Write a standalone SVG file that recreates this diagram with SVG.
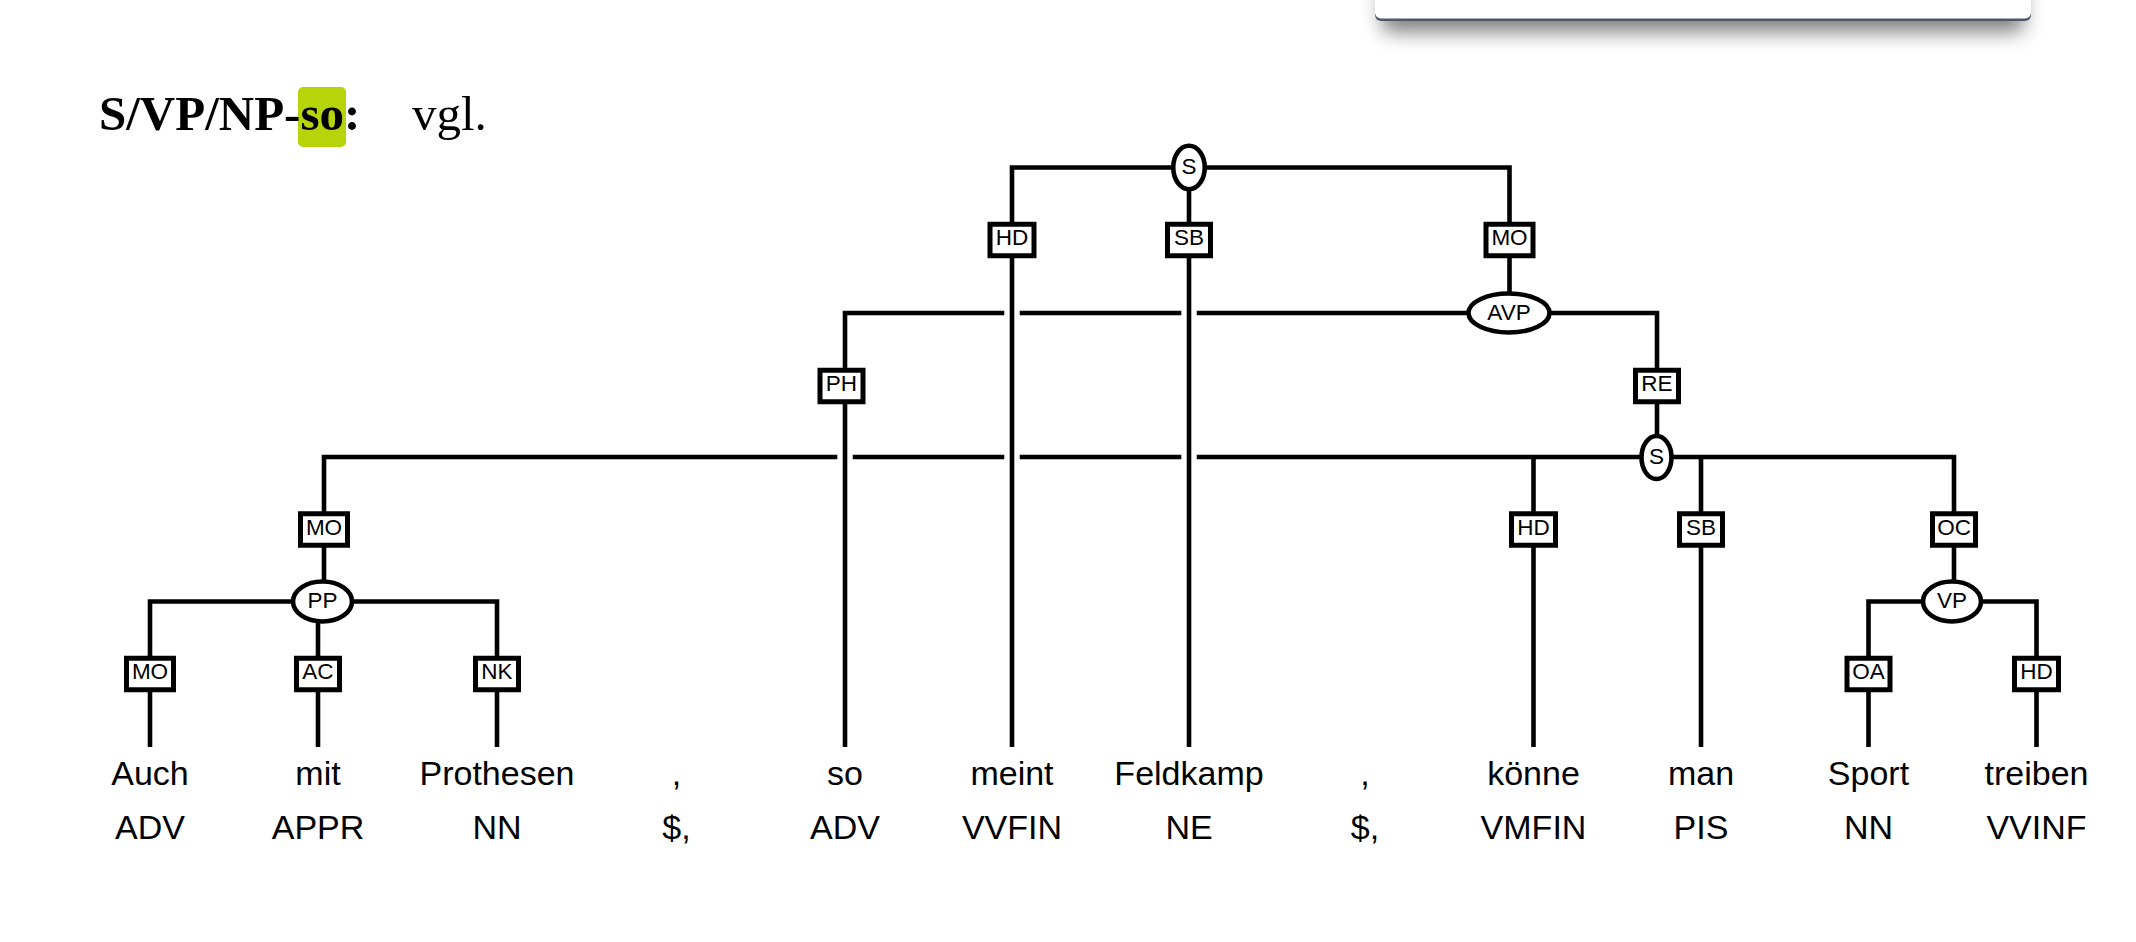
<svg xmlns="http://www.w3.org/2000/svg" width="2136" height="942" viewBox="0 0 2136 942">
<defs>
<filter id="shadow" x="-10%" y="-100%" width="120%" height="400%">
<feGaussianBlur stdDeviation="10"/>
</filter>
</defs>
<style>
.ln{fill:none;stroke:#000;stroke-width:4.6;stroke-linecap:butt;stroke-linejoin:miter}
.box{fill:#fff;stroke:#000;stroke-width:5}
.ell{fill:#fff;stroke:#000;stroke-width:4.6}
.lbl{font-family:"Liberation Sans",Arial,sans-serif;font-size:22.5px;text-anchor:middle;fill:#000}
.word{font-family:"Liberation Sans",Arial,sans-serif;font-size:34px;text-anchor:middle;fill:#000}
.title{font-family:"Liberation Serif","Times New Roman",serif;font-size:49px;fill:#000}
</style>
<rect width="2136" height="942" fill="#fff"/>
<g id="popup">
<rect x="1382" y="-20" width="642" height="52" rx="8" fill="#000" opacity="0.5" filter="url(#shadow)"/>
<rect x="1375" y="-20" width="656" height="41" rx="6" fill="#4d576a"/>
<rect x="1375" y="-22" width="656" height="40.5" rx="6" fill="#fff"/>
</g>
<g id="title">
<rect x="298" y="87" width="48" height="60" rx="5" fill="#b7d40b"/>
<text class="title" x="99" y="130" font-weight="bold">S/VP/NP-so:</text>
<text class="title" x="412" y="130">vgl.</text>
</g>
<g id="connectors">
<path class="ln" d="M1012 747 V167.5 H1509.5 V313"/>
<path class="ln" d="M1189 167.5 V747"/>
<path class="ln" d="M845 747 V313 H1004.3"/>
<path class="ln" d="M1019.7 313 H1181.3"/>
<path class="ln" d="M1196.7 313 H1657 V457"/>
<path class="ln" d="M324 601.5 V457 H837.3"/>
<path class="ln" d="M852.7 457 H1004.3"/>
<path class="ln" d="M1019.7 457 H1181.3"/>
<path class="ln" d="M1196.7 457 H1954 V601.5"/>
<path class="ln" d="M1533.5 457 V747"/>
<path class="ln" d="M1701 457 V747"/>
<path class="ln" d="M150 747 V601.5 H497 V747"/>
<path class="ln" d="M318 601.5 V747"/>
<path class="ln" d="M1868.5 747 V601.5 H2036.5 V747"/>
</g>
<g id="edge-labels">
<g id="e-HD1"><rect class="box" x="990" y="224.25" width="44" height="31.5"/><text class="lbl" x="1012" y="245">HD</text></g>
<g id="e-SB1"><rect class="box" x="1167.5" y="224.25" width="43" height="31.5"/><text class="lbl" x="1189" y="245">SB</text></g>
<g id="e-MO1"><rect class="box" x="1486" y="224.25" width="47" height="31.5"/><text class="lbl" x="1509.5" y="245">MO</text></g>
<g id="e-PH"><rect class="box" x="820" y="370.25" width="43" height="31.5"/><text class="lbl" x="841.5" y="391">PH</text></g>
<g id="e-RE"><rect class="box" x="1635.5" y="370.25" width="43" height="31.5"/><text class="lbl" x="1657" y="391">RE</text></g>
<g id="e-MO2"><rect class="box" x="300.5" y="513.75" width="47" height="31.5"/><text class="lbl" x="324" y="534.5">MO</text></g>
<g id="e-HD2"><rect class="box" x="1511.5" y="513.75" width="44" height="31.5"/><text class="lbl" x="1533.5" y="534.5">HD</text></g>
<g id="e-SB2"><rect class="box" x="1679.5" y="513.75" width="43" height="31.5"/><text class="lbl" x="1701" y="534.5">SB</text></g>
<g id="e-OC"><rect class="box" x="1932.5" y="513.75" width="43" height="31.5"/><text class="lbl" x="1954" y="534.5">OC</text></g>
<g id="e-MO3"><rect class="box" x="126.5" y="658.25" width="47" height="31.5"/><text class="lbl" x="150" y="679">MO</text></g>
<g id="e-AC"><rect class="box" x="296.5" y="658.25" width="43" height="31.5"/><text class="lbl" x="318" y="679">AC</text></g>
<g id="e-NK"><rect class="box" x="475.5" y="658.25" width="43" height="31.5"/><text class="lbl" x="497" y="679">NK</text></g>
<g id="e-OA"><rect class="box" x="1847" y="658.25" width="43" height="31.5"/><text class="lbl" x="1868.5" y="679">OA</text></g>
<g id="e-HD3"><rect class="box" x="2014.5" y="658.25" width="44" height="31.5"/><text class="lbl" x="2036.5" y="679">HD</text></g>
</g>
<g id="node-S1"><ellipse class="ell" cx="1189" cy="167.5" rx="15.75" ry="21.75"/><text class="lbl" x="1189" y="174">S</text></g>
<g id="node-AVP"><ellipse class="ell" cx="1509" cy="313" rx="40.5" ry="19.5"/><text class="lbl" x="1509" y="319.5">AVP</text></g>
<g id="node-S2"><ellipse class="ell" cx="1656.5" cy="457.5" rx="15" ry="21.5"/><text class="lbl" x="1656.5" y="464">S</text></g>
<g id="node-PP"><ellipse class="ell" cx="322.5" cy="601.5" rx="29.5" ry="20"/><text class="lbl" x="322.5" y="608">PP</text></g>
<g id="node-VP"><ellipse class="ell" cx="1952" cy="601.5" rx="29" ry="20"/><text class="lbl" x="1952" y="608">VP</text></g>
<g id="words">
<g id="w1"><text class="word" x="150" y="785">Auch</text><text class="word" x="150" y="839">ADV</text></g>
<g id="w2"><text class="word" x="318" y="785">mit</text><text class="word" x="318" y="839">APPR</text></g>
<g id="w3"><text class="word" x="497" y="785">Prothesen</text><text class="word" x="497" y="839">NN</text></g>
<g id="w4"><text class="word" x="676.5" y="785">,</text><text class="word" x="676.5" y="839">$,</text></g>
<g id="w5"><text class="word" x="845" y="785">so</text><text class="word" x="845" y="839">ADV</text></g>
<g id="w6"><text class="word" x="1012" y="785">meint</text><text class="word" x="1012" y="839">VVFIN</text></g>
<g id="w7"><text class="word" x="1189" y="785">Feldkamp</text><text class="word" x="1189" y="839">NE</text></g>
<g id="w8"><text class="word" x="1365" y="785">,</text><text class="word" x="1365" y="839">$,</text></g>
<g id="w9"><text class="word" x="1533.5" y="785">könne</text><text class="word" x="1533.5" y="839">VMFIN</text></g>
<g id="w10"><text class="word" x="1701" y="785">man</text><text class="word" x="1701" y="839">PIS</text></g>
<g id="w11"><text class="word" x="1868.5" y="785">Sport</text><text class="word" x="1868.5" y="839">NN</text></g>
<g id="w12"><text class="word" x="2036.5" y="785">treiben</text><text class="word" x="2036.5" y="839">VVINF</text></g>
</g>
</svg>
